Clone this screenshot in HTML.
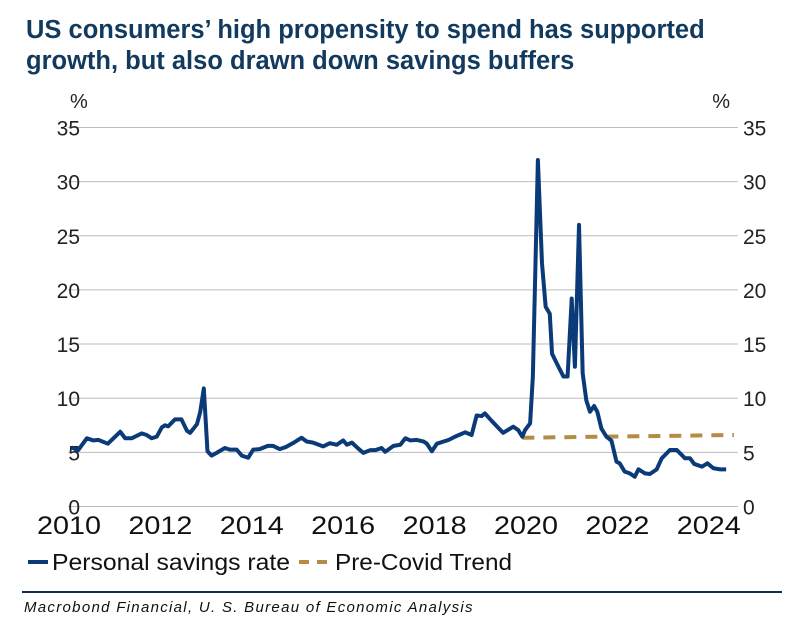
<!DOCTYPE html>
<html><head><meta charset="utf-8">
<style>
body{margin:0;background:#fff;width:806px;height:640px;overflow:hidden;font-family:"Liberation Sans",sans-serif;}
#title{position:absolute;left:26px;top:15px;font-size:25.5px;font-weight:bold;color:#123a5e;line-height:31px;white-space:nowrap;}
#src{position:absolute;left:24px;top:599px;font-size:15px;font-style:italic;color:#111;letter-spacing:1.3px;white-space:nowrap;}
#rule{position:absolute;left:22px;top:591px;width:760px;height:2px;background:#0e2d57;}
</style></head><body>
<div id="title">US consumers’ high propensity to spend has supported<br>growth, but also drawn down savings buffers</div>
<svg id="chart" width="806" height="590" style="position:absolute;left:0;top:0"></svg>
<div id="rule"></div>
<div id="src">Macrobond Financial, U. S. Bureau of Economic Analysis</div>
<script>
const dates=[2010.06,2010.2,2010.39,2010.53,2010.64,2010.85,2011.12,2011.23,2011.37,2011.59,2011.7,2011.81,2011.92,2012.03,2012.1,2012.17,2012.32,2012.46,2012.58,2012.65,2012.8,2012.87,2012.95,2013.03,2013.12,2013.23,2013.41,2013.52,2013.67,2013.78,2013.92,2014.03,2014.17,2014.35,2014.46,2014.61,2014.75,2014.9,2015.09,2015.2,2015.34,2015.56,2015.71,2015.86,2016.0,2016.08,2016.19,2016.33,2016.44,2016.59,2016.7,2016.84,2016.92,2017.1,2017.25,2017.36,2017.47,2017.61,2017.76,2017.83,2017.94,2018.05,2018.31,2018.45,2018.67,2018.81,2018.92,2019.03,2019.1,2019.25,2019.5,2019.72,2019.83,2019.92,2019.98,2020.09,2020.15,2020.26,2020.35,2020.43,2020.52,2020.57,2020.71,2020.82,2020.91,2021.0,2021.07,2021.16,2021.24,2021.32,2021.4,2021.49,2021.56,2021.65,2021.76,2021.87,2021.98,2022.05,2022.16,2022.27,2022.38,2022.46,2022.6,2022.71,2022.86,2022.97,2023.15,2023.3,2023.48,2023.59,2023.68,2023.85,2023.97,2024.1,2024.25,2024.38];
const savings=[5.45,5.2,6.3,6.1,6.15,5.8,6.9,6.3,6.3,6.75,6.6,6.3,6.45,7.3,7.5,7.4,8.05,8.05,7.0,6.8,7.6,8.7,10.9,5.1,4.7,4.95,5.4,5.25,5.25,4.7,4.5,5.25,5.3,5.6,5.6,5.3,5.5,5.85,6.35,6.0,5.9,5.55,5.85,5.7,6.1,5.7,5.9,5.35,4.95,5.2,5.2,5.4,5.05,5.6,5.7,6.3,6.1,6.15,6.0,5.8,5.1,5.8,6.15,6.45,6.85,6.6,8.4,8.35,8.6,7.9,6.8,7.37,7.06,6.45,7.06,7.68,12.0,32.0,22.45,18.45,17.8,14.1,12.9,12.0,12.0,19.2,12.9,26.0,12.3,9.8,8.75,9.28,8.75,7.2,6.45,6.08,4.14,3.99,3.22,3.06,2.75,3.43,3.06,3.0,3.43,4.45,5.22,5.22,4.45,4.45,3.93,3.68,3.99,3.53,3.43,3.43];
const trendDates=[2019.92,2024.55];
const trendVals=[6.35,6.6];
const yTicks=[0,5,10,15,20,25,30,35];
const xTicks=[2010,2012,2014,2016,2018,2020,2022,2024];
const svg=document.getElementById('chart');const NS='http://www.w3.org/2000/svg';
const X=t=>69+(t-2010)*45.7, Y=v=>506.5-v*10.83;
function mk(tag,attrs,parent){const e=document.createElementNS(NS,tag);for(const k in attrs)e.setAttribute(k,attrs[k]);(parent||svg).appendChild(e);return e;}
yTicks.forEach(v=>{
 const g=mk('line',{x1:68,x2:738,y1:Y(v),y2:Y(v),stroke:'#bdbdbd','stroke-width':1});
 
 
 const l=mk('text',{x:80,y:Y(v)+8,'text-anchor':'end','font-size':21,fill:'#222','font-family':'Liberation Sans'});l.textContent=v;
 
 
 const r=mk('text',{x:743,y:Y(v)+8,'font-size':21,fill:'#222','font-family':'Liberation Sans'});r.textContent=v;
 
 
});
xTicks.forEach(t=>{
 const l=mk('text',{x:X(t)-32,y:534,'font-size':25,fill:'#111','font-family':'Liberation Sans',textLength:64,lengthAdjust:'spacingAndGlyphs'});l.textContent=t;
 
 
});
[[70,'start'],[730,'end']].forEach(([x,a])=>{const p=mk('text',{x:x,y:108,'text-anchor':a,'font-size':20,fill:'#222','font-family':'Liberation Sans'});p.textContent='%';
 
 });
const tr=mk('polyline',{points:trendDates.map((d,i)=>X(d)+','+Y(trendVals[i])).join(' '),fill:'none',stroke:'#b58c45','stroke-width':4,'stroke-dasharray':'12,9'});


const ln=mk('polyline',{points:dates.map((d,i)=>X(d)+','+Y(savings[i])).join(' '),fill:'none',stroke:'#0b3a78','stroke-width':4,'stroke-linejoin':'round'});


const lg1=mk('line',{x1:28,x2:48,y1:562,y2:562,stroke:'#0b3a78','stroke-width':4});


const t1=mk('text',{x:52,y:570,'font-size':23,fill:'#111','font-family':'Liberation Sans',textLength:238,lengthAdjust:'spacingAndGlyphs'});t1.textContent='Personal savings rate';


const lg2=mk('line',{x1:299,x2:331,y1:562,y2:562,stroke:'#b58c45','stroke-width':4,'stroke-dasharray':'10,8'});


const t2=mk('text',{x:335,y:570,'font-size':23,fill:'#111','font-family':'Liberation Sans',textLength:177,lengthAdjust:'spacingAndGlyphs'});t2.textContent='Pre-Covid Trend';


</script>
</body></html>
